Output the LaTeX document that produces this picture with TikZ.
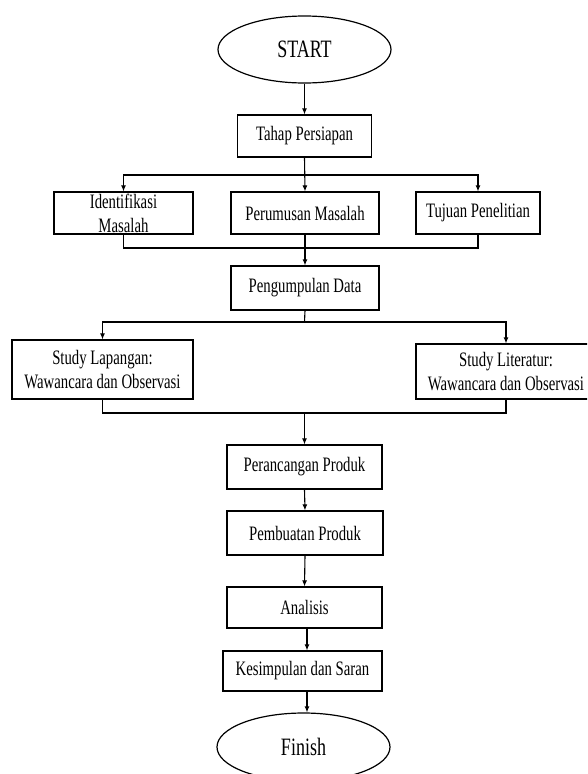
\documentclass[tikz,border=0pt]{standalone}
\usepackage{fontspec}
\setmainfont[FakeStretch=0.72]{Liberation Serif}
\usetikzlibrary{shapes.geometric,arrows.meta}
\tikzset{
  boxnode/.style={draw=black, line width=1.2pt, rectangle, inner sep=0pt, align=center,
    font=\fontsize{20.5}{24}\selectfont},
  termnode/.style={draw=black, line width=1.2pt, ellipse, inner sep=0pt,
    font=\fontsize{25}{28}\selectfont},
  arr/.style={draw=black, line width=1.1pt, -{Latex[length=6pt,width=5pt]}},
  ln/.style={draw=black, line width=1.1pt}
}
\begin{document}
\begin{tikzpicture}[x=1pt,y=-1pt]
\clip (0,0) rectangle (587,774);
\fill[white] (0,0) rectangle (587,774);
\node[termnode, minimum width=173pt, minimum height=67pt] (start) at (304.5,49.5) {START};
\node[boxnode, minimum width=134.5pt, minimum height=42pt] (tahap) at (304.5,136) {Tahap Persiapan};
\node[boxnode, minimum width=139pt, minimum height=42pt] (ident) at (123.5,213) {Identifikasi\\Masalah};
\node[boxnode, minimum width=148pt, minimum height=42pt] (rumus) at (305,213) {Perumusan Masalah};
\node[boxnode, minimum width=124pt, minimum height=42pt] (tujuan) at (478,213) {Tujuan Penelitian};
\node[boxnode, minimum width=148pt, minimum height=44pt] (kumpul) at (305,288) {Pengumpulan Data};
\node[boxnode, minimum width=181pt, minimum height=59pt] (lapangan) at (102.5,369.5) {Study Lapangan:\\Wawancara dan Observasi};
\node[boxnode, minimum width=180pt, minimum height=55pt] (literatur) at (506,371.5) {Study Literatur:\\Wawancara dan Observasi};
\node[boxnode, minimum width=155pt, minimum height=44pt] (rancang) at (304.5,467) {Perancangan Produk};
\node[boxnode, minimum width=156pt, minimum height=44pt] (buat) at (305,533) {Pembuatan Produk};
\node[boxnode, minimum width=155pt, minimum height=41pt] (analisis) at (304.5,607.5) {Analisis};
\node[boxnode, minimum width=159pt, minimum height=40pt] (simpul) at (302.5,671) {Kesimpulan dan Saran};
\node[termnode, minimum width=173pt, minimum height=68pt] (finish) at (303.5,747) {Finish};
% coordinates of branch / join points
\coordinate (b1) at (304.5,175);
\coordinate (j1) at (304.5,248);
\coordinate (b2) at (304.5,322);
\coordinate (j2) at (304.5,413);
% connectors
\draw[arr] (start) -- (tahap);
\draw[arr] (tahap.south) -- (rumus.north);
\draw[arr] (b1) -| (ident.north);
\draw[arr] (b1) -| (tujuan.north);
\draw[ln] (ident.south) |- (j1);
\draw[ln] (tujuan.south) |- (j1);
\draw[arr] (rumus.south) -- (kumpul.north);
\draw[ln] (kumpul.south) -- (b2);
\draw[arr] (b2) -| (lapangan.north);
\draw[arr] (b2) -| (literatur.north);
\draw[ln] (lapangan.south) |- (j2);
\draw[ln] (literatur.south) |- (j2);
\draw[arr] (j2) -- (rancang.north);
\draw[arr] (rancang.south) -- (buat.north);
\draw[arr] (buat.south) -- (analisis.north);
\draw[arr] ([xshift=2.5pt]analisis.south) -- ([xshift=2.5pt]analisis.south |- simpul.north);
\draw[arr] ([xshift=4.5pt]simpul.south) -- ([xshift=4.5pt]simpul.south |- finish.north);
\end{tikzpicture}
\end{document}
